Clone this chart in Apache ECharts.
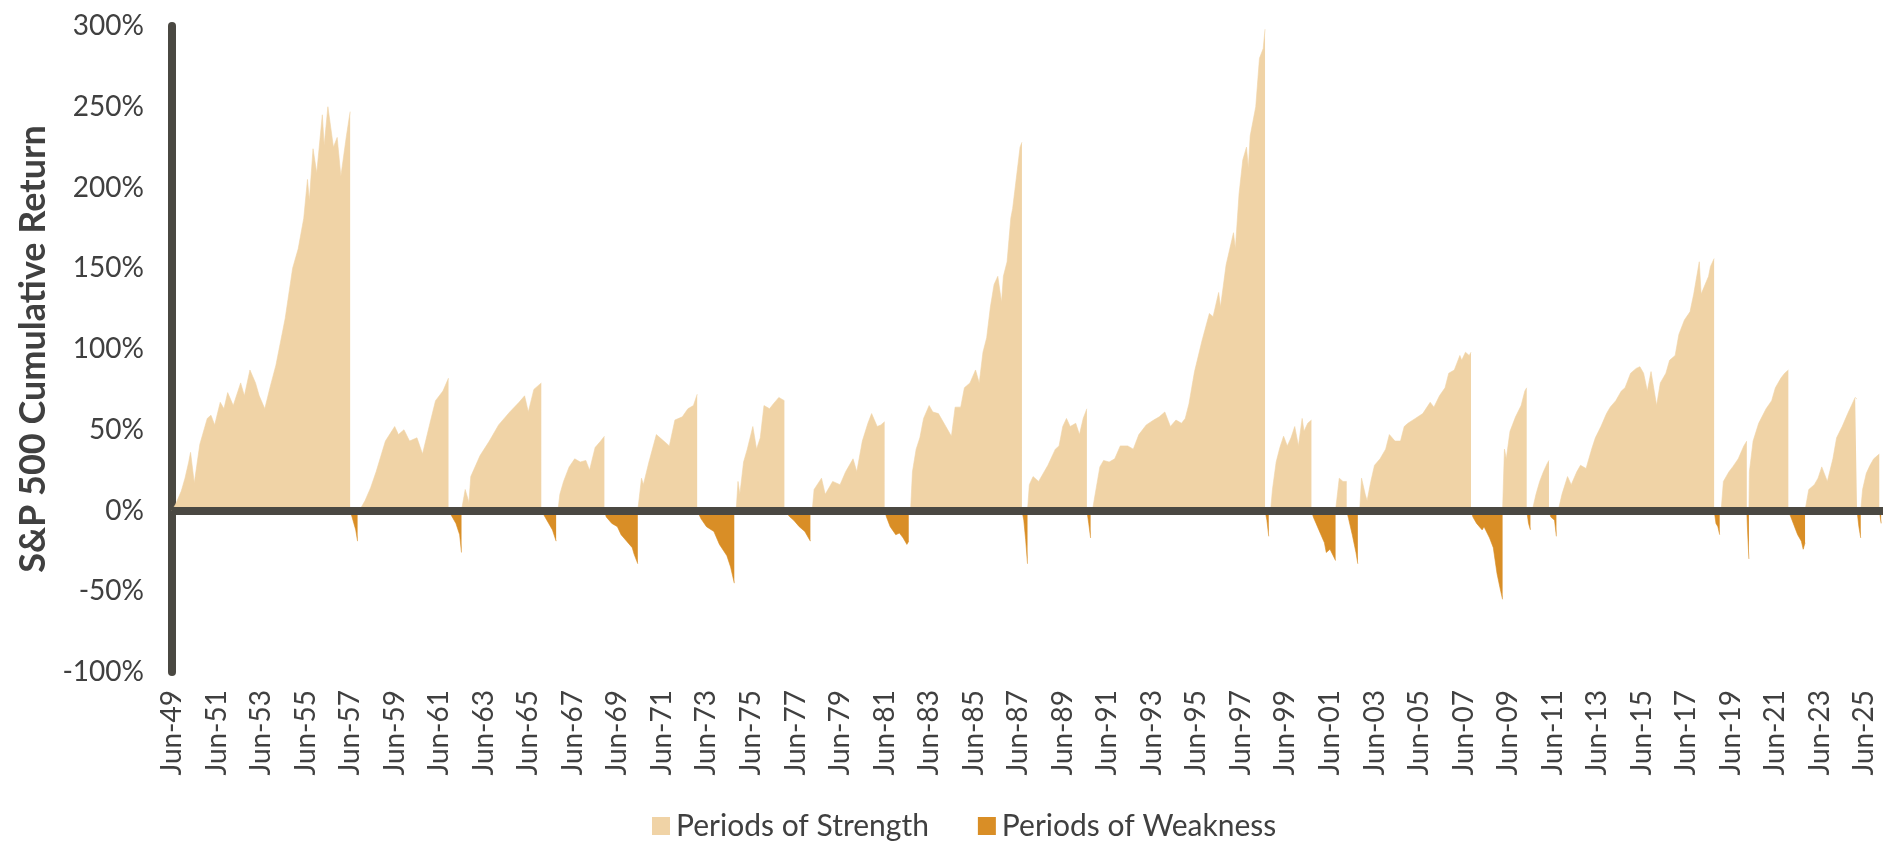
<!DOCTYPE html>
<html>
<head>
<meta charset="utf-8">
<script src="https://cdn.jsdelivr.net/npm/echarts@6/dist/echarts.min.js"></script>
<style>
  html, body { margin: 0; padding: 0; background: #ffffff; }
  #chart { width: 1893px; height: 843px; }
</style>
</head>
<body>
<div id="chart"></div>
<script>
// ---- Data (date, cumulative return %) ----
const BULL_1949 = [['1949-06',0],['1949-08',4],['1949-11',12],['1950-01',20],['1950-03',30],['1950-04',36],['1950-06',17],['1950-09',41],['1951-01',57],['1951-03',59],['1951-05',53],['1951-08',67],['1951-10',63],['1951-12',73],['1952-03',65],['1952-07',79],['1952-09',71],['1952-12',87],['1953-03',79],['1953-05',71],['1953-08',63],['1953-11',77],['1954-02',90],['1954-07',119],['1954-11',150],['1955-02',162],['1955-05',181],['1955-07',205],['1955-08',192],['1955-10',224],['1955-12',209],['1956-03',245],['1956-04',226],['1956-06',250],['1956-09',225],['1956-11',231],['1957-01',207],['1957-04',232],['1957-06',247]];
const BEAR_1957 = [['1957-06',0],['1957-07',-4],['1957-08',-8],['1957-09',-12],['1957-10',-19]];
const BULL_1957 = [['1957-11',0],['1958-02',6],['1958-05',14],['1958-08',24],['1959-01',43],['1959-06',52],['1959-08',47],['1959-11',50],['1960-02',43],['1960-06',45],['1960-09',35],['1961-01',54],['1961-04',68],['1961-08',74],['1961-11',82]];
const BEAR_1961 = [['1961-11',0],['1962-01',-4],['1962-03',-8],['1962-05',-15],['1962-06',-26]];
const BULL_1962 = [['1962-06',0],['1962-08',13],['1962-10',5],['1962-11',21],['1963-04',34],['1963-09',43],['1964-02',53],['1964-08',61],['1965-01',67],['1965-04',71],['1965-06',61],['1965-09',75],['1966-01',79]];
const BEAR_1966 = [['1966-01',0],['1966-03',-4],['1966-05',-8],['1966-07',-12],['1966-09',-19]];
const BULL_1966 = [['1966-10',0],['1966-11',10],['1967-01',18],['1967-04',27],['1967-07',32],['1967-10',30],['1968-01',31],['1968-03',25],['1968-06',39],['1968-09',43],['1968-11',46]];
const BEAR_1968 = [['1968-11',0],['1968-12',-4],['1969-03',-8],['1969-06',-10],['1969-08',-15],['1969-11',-19],['1970-02',-23],['1970-03',-27],['1970-05',-33]];
const BULL_1970 = [['1970-05',0],['1970-07',20],['1970-08',16],['1970-11',30],['1971-03',47],['1971-07',43],['1971-10',40],['1972-01',56],['1972-05',58],['1972-08',63],['1972-11',65],['1973-01',72]];
const BEAR_1973 = [['1973-01',0],['1973-03',-5],['1973-06',-10],['1973-10',-13],['1974-01',-21],['1974-05',-28],['1974-07',-35],['1974-09',-45]];
const BULL_1974 = [['1974-10',0],['1974-11',18],['1974-12',10],['1975-02',30],['1975-04',38],['1975-07',52],['1975-09',38],['1975-11',45],['1976-01',65],['1976-04',63],['1976-06',66],['1976-09',70],['1976-12',68]];
const BEAR_1976 = [['1976-12',0],['1977-03',-4],['1977-05',-6],['1977-08',-10],['1977-11',-13],['1978-02',-19]];
const BULL_1978 = [['1978-03',0],['1978-04',13],['1978-08',20],['1978-10',10],['1979-02',18],['1979-06',16],['1979-09',24],['1980-01',32],['1980-03',24],['1980-06',43],['1980-09',54],['1980-11',60],['1981-02',52],['1981-04',53],['1981-06',55]];
const BEAR_1981 = [['1981-06',0],['1981-07',-4],['1981-09',-10],['1981-12',-15],['1982-02',-14],['1982-04',-17],['1982-06',-21],['1982-07',-19]];
const BULL_1982 = [['1982-08',0],['1982-09',24],['1982-11',38],['1983-01',45],['1983-03',57],['1983-06',65],['1983-08',61],['1983-11',60],['1984-03',52],['1984-06',46],['1984-08',64],['1984-11',64],['1985-01',76],['1985-04',79],['1985-07',87],['1985-09',79],['1985-11',98],['1986-01',107],['1986-03',126],['1986-05',140],['1986-07',145],['1986-09',129],['1986-10',145],['1986-12',154],['1987-02',181],['1987-03',187],['1987-05',206],['1987-07',225],['1987-08',228]];
const BEAR_1987 = [['1987-08',0],['1987-09',-6],['1987-10',-18],['1987-11',-33]];
const BULL_1987 = [['1987-11',0],['1987-12',16],['1988-02',21],['1988-05',18],['1988-08',24],['1988-10',28],['1989-02',38],['1989-04',40],['1989-06',52],['1989-08',57],['1989-10',52],['1990-01',54],['1990-03',47],['1990-05',57],['1990-07',63]];
const BEAR_1990 = [['1990-07',0],['1990-08',-8],['1990-09',-17]];
const BULL_1990 = [['1990-10',0],['1990-11',7],['1991-02',27],['1991-04',31],['1991-07',30],['1991-10',32],['1992-01',40],['1992-05',40],['1992-08',38],['1992-11',47],['1993-03',53],['1993-07',56],['1993-10',58],['1994-01',61],['1994-04',52],['1994-07',56],['1994-10',54],['1994-12',57],['1995-02',66],['1995-05',86],['1995-09',105],['1996-01',122],['1996-03',120],['1996-06',135],['1996-07',126],['1996-10',152],['1997-02',172],['1997-03',162],['1997-05',196],['1997-07',217],['1997-09',225],['1997-10',212],['1997-11',232],['1998-02',250],['1998-04',280],['1998-06',286],['1998-07',298]];
const BEAR_1998 = [['1998-07',0],['1998-08',-6],['1998-09',-16]];
const BULL_1998 = [['1998-10',0],['1998-11',13],['1999-01',30],['1999-03',39],['1999-05',46],['1999-07',40],['1999-09',45],['1999-11',52],['2000-01',40],['2000-03',57],['2000-04',49],['2000-06',54],['2000-08',56]];
const BEAR_2000 = [['2000-08',0],['2000-09',-4],['2000-12',-12],['2001-03',-20],['2001-04',-26],['2001-06',-24],['2001-09',-31]];
const BULL_2001 = [['2001-09',0],['2001-11',20],['2002-01',18],['2002-03',18]];
const BEAR_2002 = [['2002-03',0],['2002-04',-5],['2002-06',-15],['2002-08',-26],['2002-09',-33]];
const BULL_2002 = [['2002-10',0],['2002-11',20],['2003-01',10],['2003-02',6],['2003-04',18],['2003-06',28],['2003-09',32],['2003-12',38],['2004-02',47],['2004-05',43],['2004-08',43],['2004-10',52],['2004-12',54],['2005-04',57],['2005-08',60],['2005-12',67],['2006-02',64],['2006-05',71],['2006-08',76],['2006-10',85],['2007-01',87],['2007-04',96],['2007-05',93],['2007-07',98],['2007-09',96],['2007-10',98]];
const BEAR_2007 = [['2007-10',0],['2007-11',-4],['2008-01',-8],['2008-04',-12],['2008-05',-10],['2008-08',-17],['2008-10',-23],['2008-12',-39],['2009-02',-50],['2009-03',-55]];
const BULL_2009 = [['2009-03',0],['2009-04',38],['2009-05',32],['2009-07',49],['2009-10',58],['2010-01',65],['2010-03',74],['2010-04',76]];
const BEAR_2010 = [['2010-04',0],['2010-05',-8],['2010-06',-12]];
const BULL_2010 = [['2010-07',0],['2010-09',10],['2010-11',18],['2011-01',24],['2011-03',29],['2011-04',31]];
const BEAR_2011 = [['2011-04',0],['2011-05',-4],['2011-07',-6],['2011-08',-16]];
const BULL_2011 = [['2011-09',0],['2011-11',10],['2012-02',21],['2012-04',16],['2012-07',24],['2012-09',28],['2012-12',26],['2013-03',38],['2013-05',45],['2013-08',52],['2013-11',60],['2014-01',64],['2014-04',68],['2014-07',74],['2014-09',76],['2014-12',85],['2015-03',88],['2015-05',89],['2015-07',85],['2015-09',74],['2015-11',86],['2016-02',65],['2016-04',79],['2016-07',85],['2016-09',93],['2016-12',96],['2017-02',109],['2017-05',118],['2017-08',123],['2017-10',134],['2018-01',154],['2018-02',134],['2018-06',145],['2018-07',151],['2018-09',156]];
const BEAR_2018 = [['2018-09',0],['2018-10',-8],['2018-11',-10],['2018-12',-15]];
const BULL_2018 = [['2018-12-24',0],['2019-02',18],['2019-05',24],['2019-07',27],['2019-10',32],['2020-01',40],['2020-02-19',43]];
const BEAR_2020 = [['2020-02-19',0],['2020-03-01',-12],['2020-03-23',-30]];
const BULL_2020 = [['2020-03-23',0],['2020-04',24],['2020-06',43],['2020-09',54],['2021-01',63],['2021-04',68],['2021-06',76],['2021-09',82],['2021-11',85],['2022-01',87]];
const BEAR_2022 = [['2022-01',0],['2022-03',-6],['2022-05',-12],['2022-06',-15],['2022-08',-19],['2022-09',-24],['2022-10',-20]];
const BULL_2022 = [['2022-10',0],['2022-12',13],['2023-03',16],['2023-05',20],['2023-07',27],['2023-10',18],['2024-01',32],['2024-03',45],['2024-06',52],['2024-09',60],['2024-11',65],['2025-01',70],['2025-02',69]];
const BEAR_2025 = [['2025-02',0],['2025-03',-10],['2025-04',-17]];
const BULL_2025 = [['2025-04',0],['2025-05',13],['2025-07',23],['2025-09',28],['2025-11',32],['2026-02',35]];
const BEAR_2026 = [['2026-02',0],['2026-03',-8]];

const STRENGTH_PERIODS = [BULL_1949, BULL_1957, BULL_1962, BULL_1966, BULL_1970, BULL_1974, BULL_1978, BULL_1982, BULL_1987, BULL_1990, BULL_1998, BULL_2001, BULL_2002, BULL_2009, BULL_2010, BULL_2011, BULL_2018, BULL_2020, BULL_2022, BULL_2025];
const WEAKNESS_PERIODS = [BEAR_1957, BEAR_1961, BEAR_1966, BEAR_1968, BEAR_1973, BEAR_1976, BEAR_1981, BEAR_1987, BEAR_1990, BEAR_1998, BEAR_2000, BEAR_2002, BEAR_2007, BEAR_2010, BEAR_2011, BEAR_2018, BEAR_2020, BEAR_2022, BEAR_2025, BEAR_2026];

const Y_TICKS = { min: -100, max: 300, step: 50 };
const X_START = '1949-06';   // first tick label "Jun-49"
const X_END = '2026-04';
const TICK_EVERY_MONTHS = 24;
const SERIES_NAMES = ['Periods of Strength', 'Periods of Weakness'];

// ---- helpers ----
function toMonthIndex(s) {
  const p = s.split('-').map(Number);
  const d = p[2] || 1;
  return (p[0] - 1949) * 12 + (p[1] - 6) + (d - 1) / 30;
}
function buildSeries(periods) {
  const out = [];
  periods.forEach((per, i) => {
    if (i > 0) out.push([toMonthIndex(per[0][0]), '-']);
    per.forEach(pt => out.push([toMonthIndex(pt[0]), pt[1]]));
  });
  return out;
}
const MON = ['Jan','Feb','Mar','Apr','May','Jun','Jul','Aug','Sep','Oct','Nov','Dec'];
function monthLabel(v) {
  if (Math.abs(v % TICK_EVERY_MONTHS) > 1e-6) return '';
  const total = 1949 * 12 + 5 + v;
  const y = Math.floor(total / 12), m = total % 12;
  return MON[m] + '-' + String(y).slice(2);
}

const COLOR_STRENGTH = '#F0D3A6';
const COLOR_WEAKNESS = '#D98E26';
const AXIS_COLOR = '#4A4842';
const TEXT_COLOR = '#404040';
const FONT = 'Lato, "Open Sans", sans-serif';

const chart = echarts.init(document.getElementById('chart'), null, { renderer: 'canvas' });
chart.setOption({
  animation: false,
  backgroundColor: '#ffffff',
  grid: { left: 172, right: 10, top: 26, bottom: 171, containLabel: false },
  legend: {
    data: SERIES_NAMES,
    left: 647, top: 806,
    icon: 'rect', itemWidth: 18, itemHeight: 18, itemGap: 49,
    textStyle: { fontFamily: FONT, fontSize: 30, color: TEXT_COLOR, padding: [0, 0, 0, 1] }
  },
  xAxis: {
    type: 'value',
    min: toMonthIndex(X_START), max: toMonthIndex(X_END),
    interval: TICK_EVERY_MONTHS,
    axisLine: { show: false },
    axisTick: { show: false },
    splitLine: { show: false },
    axisLabel: {
      rotate: 90, margin: 18, fontFamily: FONT, fontSize: 28, color: TEXT_COLOR,
      formatter: monthLabel, showMaxLabel: false
    }
  },
  yAxis: {
    type: 'value',
    min: Y_TICKS.min, max: Y_TICKS.max, interval: Y_TICKS.step,
    name: 'S&P 500 Cumulative Return',
    nameLocation: 'middle', nameGap: 117,
    nameTextStyle: { fontFamily: FONT, fontSize: 36, fontWeight: 'bold', color: TEXT_COLOR },
    axisLine: { show: true, lineStyle: { color: AXIS_COLOR, width: 8 } },
    axisTick: { show: false },
    splitLine: { show: false },
    axisLabel: { margin: 28, fontFamily: FONT, fontSize: 28, color: TEXT_COLOR, formatter: '{value}%' }
  },
  series: [
    {
      name: SERIES_NAMES[0], type: 'line', z: 2,
      data: buildSeries(STRENGTH_PERIODS),
      showSymbol: false, connectNulls: false,
      color: COLOR_STRENGTH,
      itemStyle: { color: COLOR_STRENGTH },
      lineStyle: { width: 0.6, color: COLOR_STRENGTH },
      areaStyle: { color: COLOR_STRENGTH, opacity: 1 }
    },
    {
      name: SERIES_NAMES[1], type: 'line', z: 3,
      data: buildSeries(WEAKNESS_PERIODS),
      showSymbol: false, connectNulls: false,
      color: COLOR_WEAKNESS,
      itemStyle: { color: COLOR_WEAKNESS },
      lineStyle: { width: 0.6, color: COLOR_WEAKNESS },
      areaStyle: { color: COLOR_WEAKNESS, opacity: 1 },
      markLine: {
        silent: true, symbol: 'none', animation: false,
        label: { show: false },
        lineStyle: { color: AXIS_COLOR, width: 8, type: 'solid' },
        data: [{ yAxis: 0 }]
      }
    }
  ]
});
</script>
</body>
</html>
